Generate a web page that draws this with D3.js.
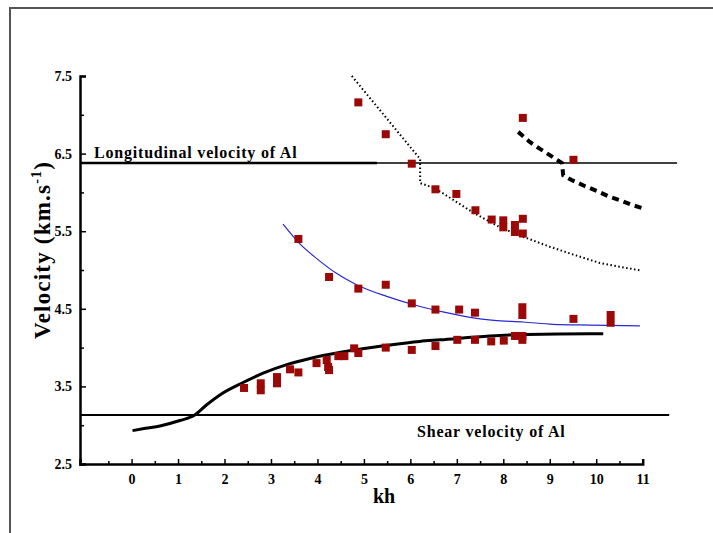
<!DOCTYPE html>
<html>
<head>
<meta charset="utf-8">
<script src="https://cdn.jsdelivr.net/npm/d3@7"></script>
<style>
  body { margin: 0; background: #fff; }
</style>
</head>
<body>
<svg class="visualization" width="713" height="533"></svg>
<script>
    // measured points (kh, velocity in km/s)
    var pointKh = [4.88, 5.47, 6.03, 6.54, 6.99, 7.40, 7.75, 8.00, 8.00, 8.25, 8.25, 8.42, 8.42, 8.42, 9.51,
                   3.59, 4.25, 4.88, 5.47, 6.03, 6.54, 7.05, 7.39, 8.41, 8.41, 9.51, 10.31, 10.31,
                   2.42, 2.78, 2.78, 3.13, 3.13, 3.41, 3.59, 3.98, 4.20, 4.23, 4.25, 4.45, 4.58, 4.79, 4.88,
                   5.47, 6.03, 6.54, 7.01, 7.39, 7.74, 8.01, 8.25, 8.41, 8.41];
    var pointV = [7.16, 6.75, 6.37, 6.04, 5.98, 5.77, 5.65, 5.64, 5.55, 5.58, 5.49, 5.66, 5.47, 6.96, 6.42,
                  5.40, 4.91, 4.76, 4.81, 4.57, 4.49, 4.49, 4.45, 4.52, 4.42, 4.37, 4.42, 4.32,
                  3.48, 3.54, 3.45, 3.62, 3.54, 3.72, 3.68, 3.80, 3.84, 3.75, 3.71, 3.89, 3.89, 3.99, 3.93,
                  4.00, 3.97, 4.02, 4.10, 4.10, 4.08, 4.09, 4.15, 4.15, 4.10];

    // fitted curves
    var mode0Kh = [0.02, 0.3, 0.61, 1.04, 1.36, 1.61, 1.90, 2.40, 2.83, 3.34, 3.84, 4.5, 5.5, 6.2, 6.64, 7.71, 8.5, 9.87, 10.15];
    var mode0V  = [2.93, 2.96, 2.99, 3.06, 3.13, 3.26, 3.39, 3.55, 3.67, 3.78, 3.86, 3.94, 4.03, 4.08, 4.10, 4.15, 4.17, 4.18, 4.18];

    var mode1Kh = [3.26, 3.6, 3.98, 4.4, 4.84, 5.49, 6.21, 6.7, 7.28, 7.8, 8.43, 9.07, 9.87, 10.94];
    var mode1V  = [5.59, 5.35, 5.15, 4.96, 4.81, 4.66, 4.53, 4.46, 4.39, 4.35, 4.33, 4.30, 4.29, 4.28];

    var mode2Kh = [4.74, 6.21, 6.21, 6.54, 7.35, 7.93, 8.42, 9.0, 9.5, 10.08, 10.98];
    var mode2V  = [7.50, 6.43, 6.12, 6.05, 5.74, 5.55, 5.43, 5.30, 5.20, 5.09, 4.99];

    var mode3Kh = [8.32, 8.57, 8.79, 9.0, 9.26, 9.29, 9.47, 9.76, 10.01, 10.26, 10.51, 10.76, 10.98];
    var mode3V  = [6.78, 6.65, 6.56, 6.48, 6.38, 6.22, 6.16, 6.08, 6.02, 5.95, 5.90, 5.84, 5.80];

    var longitudinalV = 6.38;
    var shearV = 3.13;

    var xTicks = [0, 1, 2, 3, 4, 5, 6, 7, 8, 9, 10, 11];
    var xMinor = [-0.5, 0.5, 1.5, 2.5, 3.5, 4.5, 5.5, 6.5, 7.5, 8.5, 9.5, 10.5];
    var yTicks = [2.5, 3.5, 4.5, 5.5, 6.5, 7.5];
    var yMinor = [3, 4, 5, 6, 7];

    var serif = "'Liberation Serif', 'Times New Roman', serif";
    var svg = d3.select(".visualization");

    var xScale = d3.scaleLinear().domain([-1.11, 11]).range([80, 642.7]);
    var yScale = d3.scaleLinear().domain([2.5, 7.5]).range([464, 76]);

    // outer frame
    svg.append("rect")
        .attr("x", 10).attr("y", 8)
        .attr("width", 720).attr("height", 540)
        .attr("fill", "none")
        .attr("stroke", "#555")
        .attr("stroke-width", 2);

    // reference lines
    svg.append("line")
        .attr("x1", xScale(-1.11)).attr("x2", xScale(11.74))
        .attr("y1", yScale(longitudinalV)).attr("y2", yScale(longitudinalV))
        .attr("stroke", "#000").attr("stroke-width", 1.5);
    svg.append("line")
        .attr("x1", xScale(-1.11)).attr("x2", xScale(5.28))
        .attr("y1", yScale(longitudinalV)).attr("y2", yScale(longitudinalV))
        .attr("stroke", "#000").attr("stroke-width", 2.5);
    svg.append("line")
        .attr("x1", xScale(-1.11)).attr("x2", xScale(11.57))
        .attr("y1", yScale(shearV)).attr("y2", yScale(shearV))
        .attr("stroke", "#000").attr("stroke-width", 2);

    svg.append("text")
        .attr("x", 94).attr("y", 158)
        .style("font-family", serif)
        .style("letter-spacing", "0.8px")
        .attr("font-size", "16px").attr("font-weight", "bold")
        .text("Longitudinal velocity of Al");
    svg.append("text")
        .attr("x", 417).attr("y", 437)
        .style("font-family", serif)
        .style("letter-spacing", "0.8px")
        .attr("font-size", "16px").attr("font-weight", "bold")
        .text("Shear velocity of Al");

    function curve(khs, vs) {
        return d3.line()
            .x(function (d, i) { return xScale(khs[i]); })
            .y(function (d, i) { return yScale(vs[i]); })
            .curve(d3.curveMonotoneX)(khs);
    }

    svg.append("path")
        .attr("d", d3.line()
            .x(function (d, i) { return xScale(mode2Kh[i]); })
            .y(function (d, i) { return yScale(mode2V[i]); })
            .curve(d3.curveLinear)(mode2Kh))
        .attr("fill", "none").attr("stroke", "#000")
        .attr("stroke-width", 2).attr("stroke-dasharray", "1.5,2.5");

    svg.append("path")
        .attr("d", d3.line()
            .x(function (d, i) { return xScale(mode3Kh[i]); })
            .y(function (d, i) { return yScale(mode3V[i]); })(mode3Kh))
        .attr("fill", "none").attr("stroke", "#000")
        .attr("stroke-width", 4).attr("stroke-dasharray", "7,5");

    svg.append("path")
        .attr("d", curve(mode1Kh, mode1V))
        .attr("fill", "none").attr("stroke", "#2a2ad0")
        .attr("stroke-width", 1.2);

    svg.append("path")
        .attr("d", curve(mode0Kh, mode0V))
        .attr("fill", "none").attr("stroke", "#000")
        .attr("stroke-width", 3);

    // data points
    svg.selectAll("rect.pt")
        .data(pointKh)
        .enter()
        .append("rect")
        .attr("class", "pt")
        .attr("x", function (d) { return xScale(d) - 4; })
        .attr("y", function (d, i) { return yScale(pointV[i]) - 4; })
        .attr("width", 8).attr("height", 8)
        .attr("fill", "#9a0808");

    // axes
    svg.append("g")
        .attr("transform", "translate(0," + yScale(2.5) + ")")
        .call(d3.axisBottom(xScale).tickValues(xTicks).tickSize(-5).tickPadding(10).tickFormat(d3.format("d")));
    svg.append("g")
        .attr("transform", "translate(0," + yScale(2.5) + ")")
        .call(d3.axisBottom(xScale).tickValues(xMinor).tickSize(-3).tickFormat(""))
        .select(".domain").remove();

    svg.append("g")
        .attr("transform", "translate(" + xScale(-1.11) + ",0)")
        .call(d3.axisLeft(yScale).tickValues(yTicks).tickSize(-6).tickPadding(8).tickFormat(d3.format(".1f")));
    svg.append("g")
        .attr("transform", "translate(" + xScale(-1.11) + ",0)")
        .call(d3.axisLeft(yScale).tickValues(yMinor).tickSize(-4).tickFormat(""))
        .select(".domain").remove();

    svg.selectAll(".domain").attr("stroke", "#000").attr("stroke-width", 2.5);
    svg.selectAll(".tick line").attr("stroke", "#000").attr("stroke-width", 1.5);
    svg.selectAll(".tick text")
        .style("font-family", serif)
        .attr("font-size", "14px")
        .attr("font-weight", "bold")
        .attr("fill", "#000");

    // axis titles
    svg.append("text")
        .attr("x", 384).attr("y", 503)
        .attr("text-anchor", "middle")
        .style("font-family", serif)
        .attr("font-size", "20px").attr("font-weight", "bold")
        .text("kh");

    var yTitle = svg.append("text")
        .attr("transform", "translate(50,250) rotate(-90)")
        .attr("text-anchor", "middle")
        .style("font-family", serif)
        .style("letter-spacing", "1.2px")
        .attr("font-size", "23px").attr("font-weight", "bold");
    yTitle.append("tspan").text("Velocity (km.s");
    yTitle.append("tspan").attr("dy", -9).attr("font-size", "14px").text("-1");
    yTitle.append("tspan").attr("dy", 9).text(")");
</script>
</body>
</html>
